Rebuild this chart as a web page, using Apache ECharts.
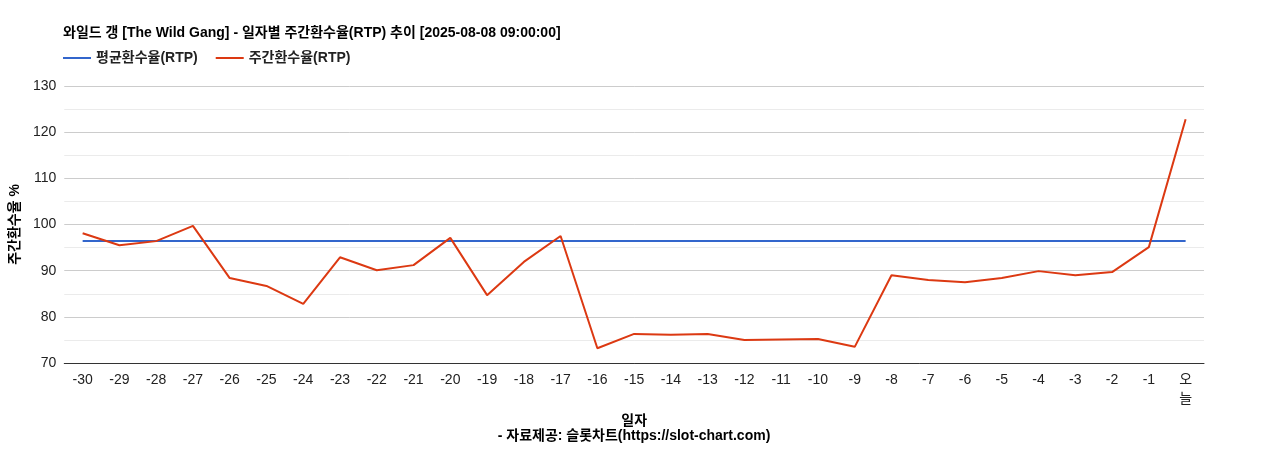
<!DOCTYPE html>
<html><head><meta charset="utf-8">
<script src="https://cdn.jsdelivr.net/npm/echarts@6/dist/echarts.min.js"></script>
<style>body{margin:0}#c{width:1268px;height:450px}</style></head>
<body><div id="c"></div>
<script>
var days = ['-30','-29','-28','-27','-26','-25','-24','-23','-22','-21','-20','-19','-18','-17','-16','-15','-14','-13','-12','-11','-10','-9','-8','-7','-6','-5','-4','-3','-2','-1','오늘'];
var weekly = [98.1,95.5,96.4,99.7,88.4,86.7,82.8,92.9,90.1,91.2,97.1,84.7,91.9,97.5,73.2,76.3,76.1,76.3,75.0,75.1,75.2,73.5,89.0,88.0,87.5,88.4,89.9,89.0,89.7,95.1,122.8];
var avgValue = 96.4;
var avg = days.map(function(){ return avgValue; });

var chart = echarts.init(document.getElementById('c'));
var font = '"Liberation Sans", "Noto Sans CJK KR", sans-serif';
chart.setOption({
  textStyle: { fontFamily: font },
  title: {
    text: '와일드 갱 [The Wild Gang] - 일자별 주간환수율(RTP) 추이 [2025-08-08 09:00:00]',
    left: 58, top: 21,
    textStyle: { fontSize: 14, fontWeight: 'bold', color: '#000', fontFamily: font }
  },
  legend: {
    left: 58, top: 46, itemWidth: 28, itemHeight: 2, itemGap: 18,
    icon: 'rect',
    textStyle: { fontSize: 14, fontWeight: 'bold', color: '#222' },
    data: ['평균환수율(RTP)', '주간환수율(RTP)']
  },
  graphic: [{
    type: 'text', left: 'center', top: 429,
    style: { text: '- 자료제공: 슬롯차트(https://slot-chart.com)', font: 'bold 14px ' + font, fill: '#000' }
  }],
  grid: { left: 62, right: 64, top: 86, bottom: 87 },
  xAxis: {
    type: 'category', data: days,
    name: '일자', nameLocation: 'middle', nameGap: 46,
    nameTextStyle: { fontSize: 14, fontWeight: 'bold', color: '#000' },
    axisLine: { lineStyle: { color: '#333' } },
    axisTick: { show: false },
    axisLabel: { interval: 0, fontSize: 14, color: '#222', lineHeight: 19,
      formatter: function(v){ return v === '오늘' ? '오\n늘' : v; } }
  },
  yAxis: {
    type: 'value', min: 70, max: 130, interval: 5,
    name: '주간환수율 %', nameLocation: 'middle', nameGap: 30, nameRotate: 90,
    nameTextStyle: { fontSize: 14, fontWeight: 'bold', color: '#000' },
    axisLabel: { fontSize: 14, color: '#222',
      formatter: function(v){ return v % 10 === 0 ? v : ''; } },
    splitLine: { lineStyle: { color: ['#ccc', '#ebebeb'] } }
  },
  series: [
    { name: '평균환수율(RTP)', type: 'line', data: avg, symbol: 'none',
      lineStyle: { color: '#3366cc', width: 2 }, itemStyle: { color: '#3366cc' } },
    { name: '주간환수율(RTP)', type: 'line', data: weekly, symbol: 'none',
      lineStyle: { color: '#dc3912', width: 2 }, itemStyle: { color: '#dc3912' } }
  ]
});
</script></body></html>
